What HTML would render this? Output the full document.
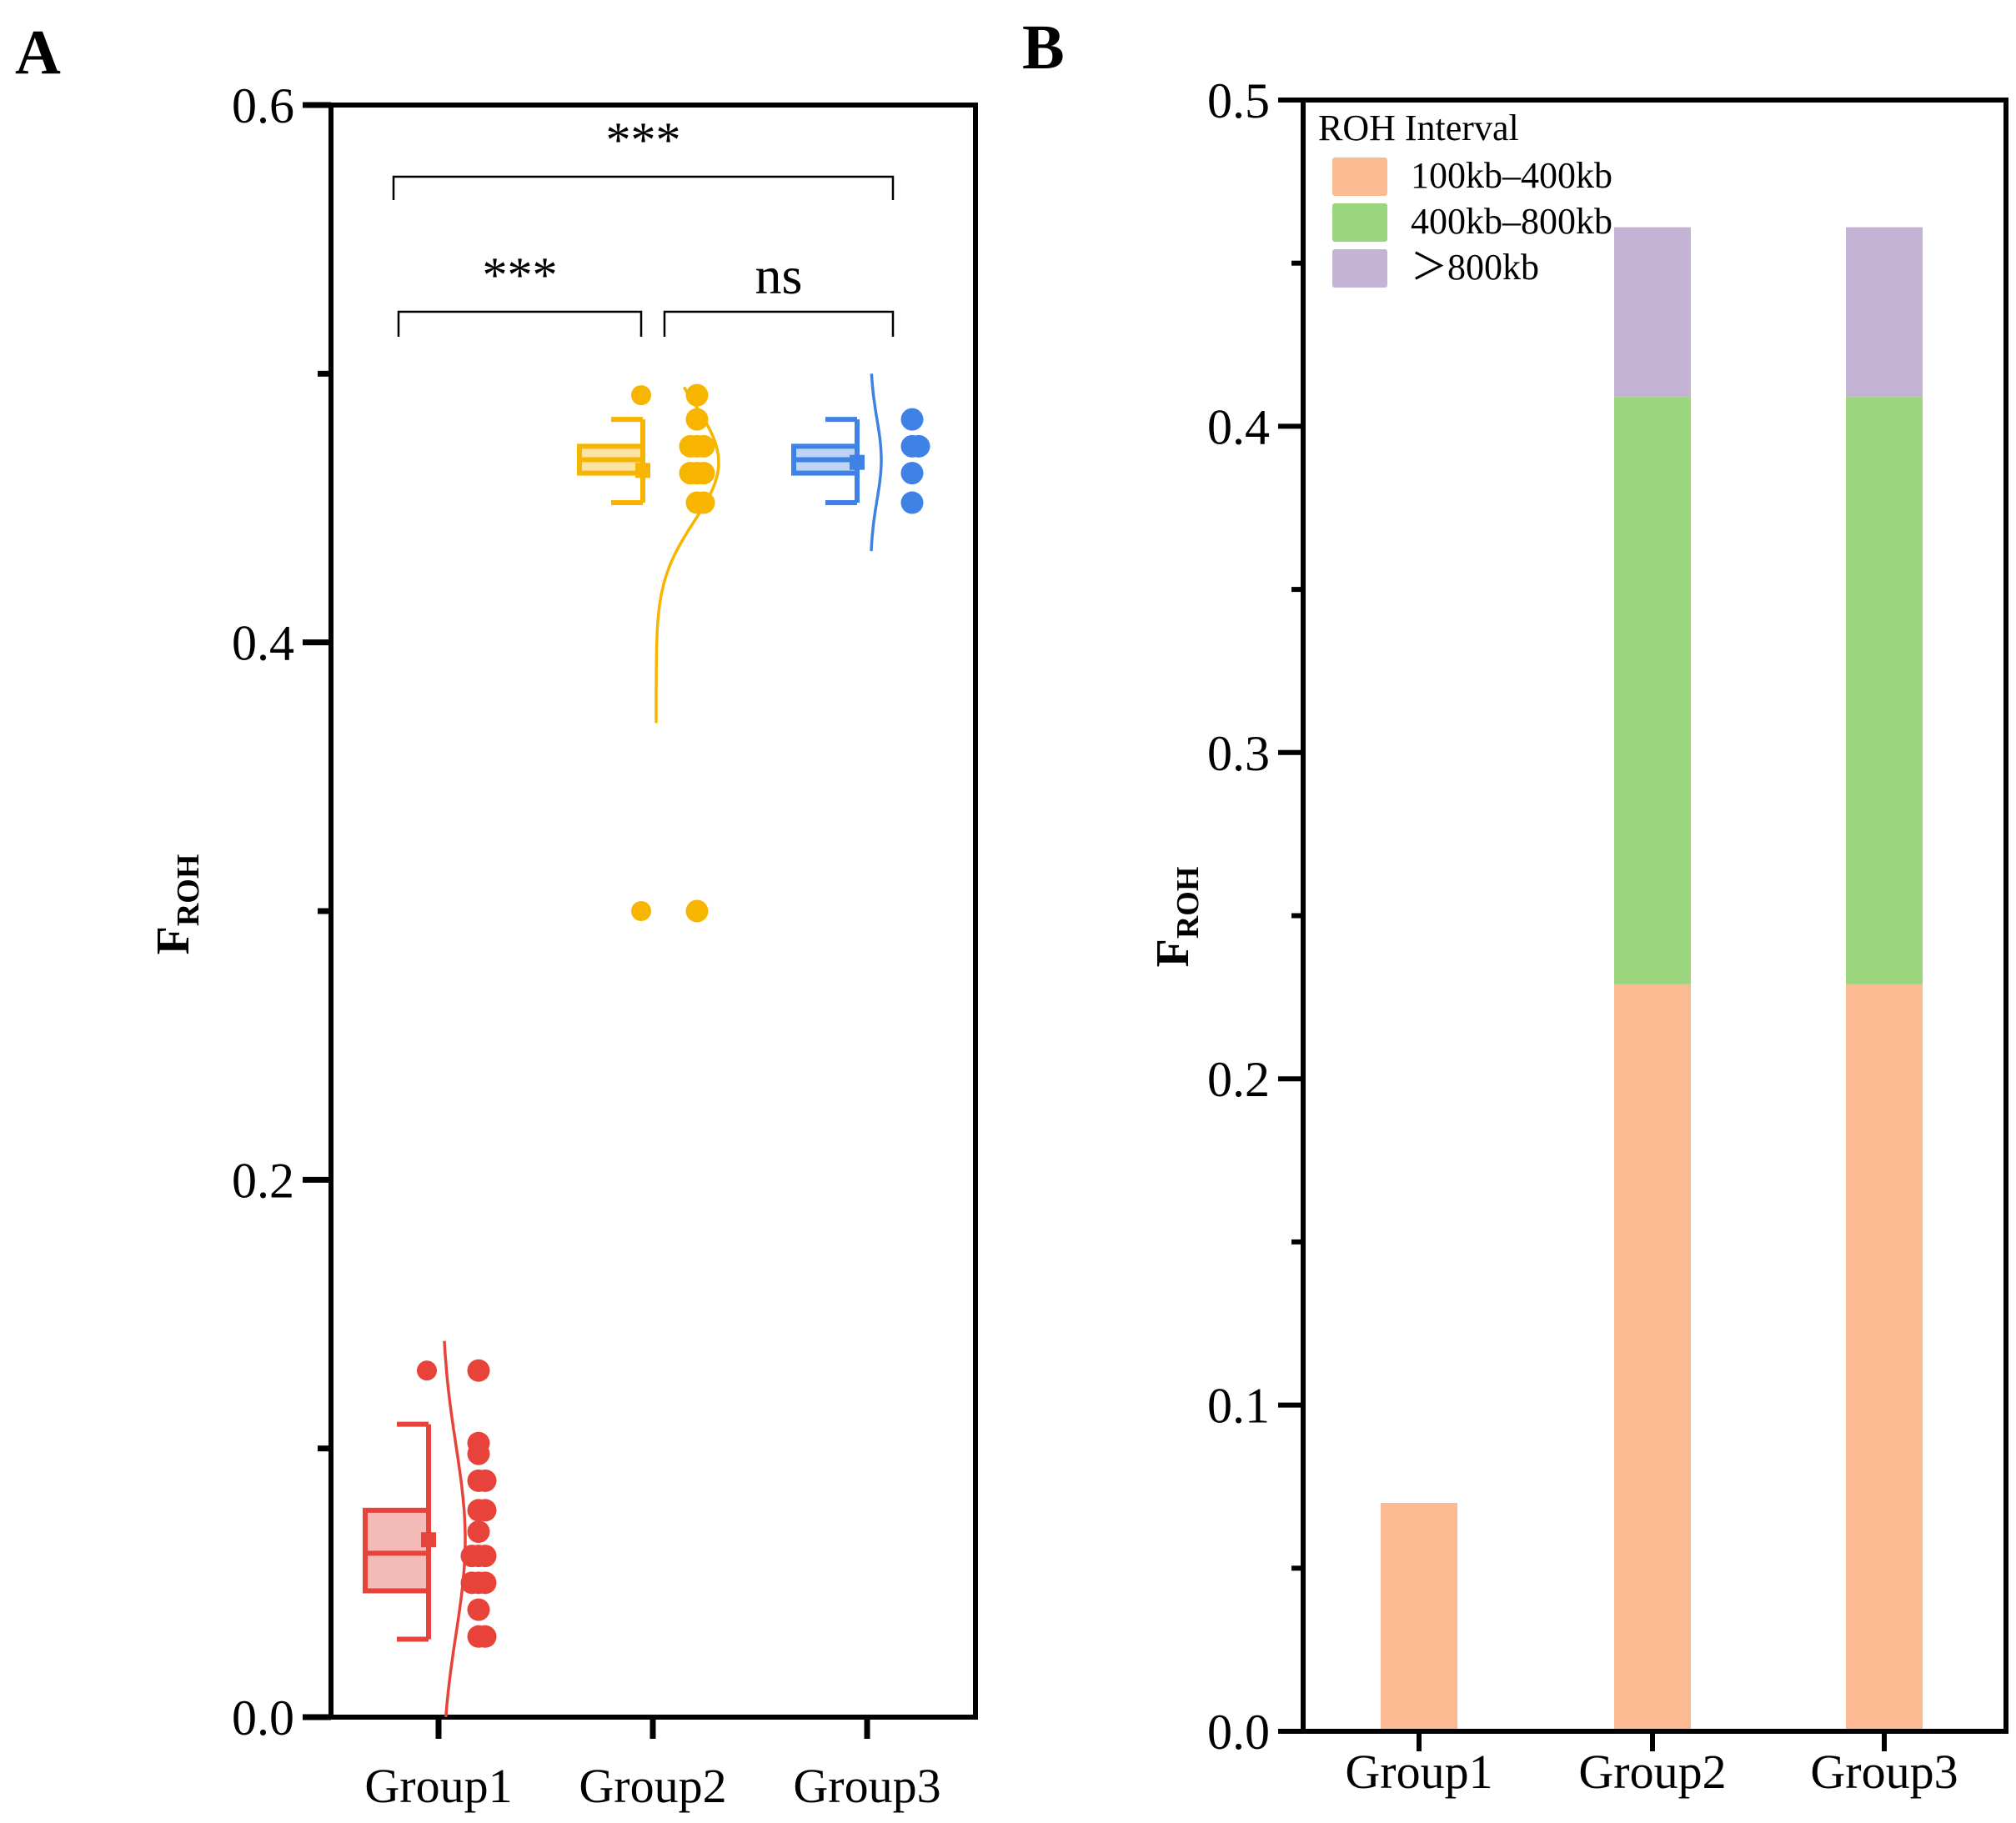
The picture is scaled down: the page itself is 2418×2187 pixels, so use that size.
<!DOCTYPE html>
<html><head><meta charset="utf-8"><style>
html,body{margin:0;padding:0;background:#fff}
svg{display:block}
text{font-family:"Liberation Serif",serif;fill:#000}
</style></head><body>
<svg id="chart" width="2418" height="2187" viewBox="0 0 2418 2187" xmlns="http://www.w3.org/2000/svg">
<text x="18" y="88" font-size="76" font-weight="bold">A</text>
<text x="1226" y="82" font-size="76" font-weight="bold">B</text>
<g id="pa"></g>
<g id="pb"></g>
</svg>
<script>
// ---------- Panel A data ----------
const groupsA = ["Group1","Group2","Group3"];
const q1A = [0.047, 0.463, 0.463];
const medA = [0.061, 0.468, 0.468];
const q3A = [0.077, 0.473, 0.473];
const whLoA = [0.029, 0.452, 0.452];
const whHiA = [0.109, 0.483, 0.483];
const meanA = [0.066, 0.464, 0.467];
const pts1 = [0.129,0.102,0.098,0.088,0.088,0.077,0.077,0.069,0.060,0.060,0.060,0.050,0.050,0.050,0.040,0.030,0.030];
const pts2 = [0.492,0.483,0.473,0.473,0.473,0.463,0.463,0.463,0.452,0.452,0.300];
const pts3 = [0.483,0.473,0.473,0.463,0.452];
const outliersA = [[0.129],[0.492,0.300],[]];
const curveMean = [0.066, 0.467, 0.468];
const curveSd = [0.035, 0.022, 0.015];
const curveLo = [0.0, 0.37, 0.434];
const curveHi = [0.14, 0.495, 0.50];
const yTicksA = [0.0, 0.2, 0.4, 0.6];
const yMinorA = [0.1, 0.3, 0.5];
const colorsA = ["#E8433A","#F7B500","#3F82E6"];
const fillsA = ["#F4BBB8","#FBE3A6","#BFD3F3"];

// ---------- Panel B data ----------
const groupsB = ["Group1","Group2","Group3"];
const seg1 = [0.070, 0.229, 0.229];
const seg2 = [0.000, 0.180, 0.180];
const seg3 = [0.000, 0.052, 0.052];
const seriesNames = ["100kb\u2013400kb","400kb\u2013800kb","\uFF1E800kb"];
const seriesColors = ["#FBBA91","#9BD57E","#C5B3D6"];
const yTicksB = [0.0,0.1,0.2,0.3,0.4,0.5];
const yMinorB = [0.05,0.15,0.25,0.35,0.45];

const NS="http://www.w3.org/2000/svg";
function mk(tag, attrs, parent){const e=document.createElementNS(NS,tag);for(const k in attrs)e.setAttribute(k,attrs[k]);parent.appendChild(e);return e;}

// ---------- Panel A ----------
(function(){
const g=document.getElementById('pa');
const L=397,R=1170,T=126,B=2060;
const y=v=>B-(v/0.6)*(B-T);
const xc=[526,783,1040];
const x=i=>xc[i];
let f=mk('rect',{x:L,y:T,width:R-L,height:B-T,fill:'none',stroke:'#000','stroke-width':6},g);


yTicksA.forEach(v=>{
  let t=mk('line',{x1:L-34,x2:L,y1:y(v),y2:y(v),stroke:'#000','stroke-width':7},g);
  
  
  let tx=mk('text',{x:L-44,y:y(v)+21,'font-size':60,'text-anchor':'end'},g);
  tx.textContent=v.toFixed(1);
  
  
});
yMinorA.forEach(v=>{
  let t=mk('line',{x1:L-16,x2:L,y1:y(v),y2:y(v),stroke:'#000','stroke-width':7},g);
  
  
});
groupsA.forEach((n,i)=>{
  let t=mk('line',{x1:x(i),x2:x(i),y1:B,y2:B+26,stroke:'#000','stroke-width':7},g);
  
  
  let tx=mk('text',{x:x(i),y:2162,'font-size':58,'text-anchor':'middle'},g);
  tx.textContent=n;
  
  
});
let yl=mk('text',{transform:'translate(226,1085) rotate(-90)','font-size':56,'font-weight':'bold','text-anchor':'middle'},g);
yl.innerHTML='F<tspan font-size="38" dy="12">ROH</tspan>';


const pts=[pts1,pts2,pts3];
groupsA.forEach((n,i)=>{
  const c=colorsA[i];
  const bx=x(i)-88, bw=76, br=x(i)-12;
  let bg=mk('g',{},g);
  
  
  mk('rect',{x:bx,y:y(q3A[i]),width:bw,height:y(q1A[i])-y(q3A[i]),fill:fillsA[i],stroke:c,'stroke-width':6},bg);
  mk('line',{x1:bx,x2:br,y1:y(medA[i]),y2:y(medA[i]),stroke:c,'stroke-width':6},bg);
  mk('line',{x1:br,x2:br,y1:y(whHiA[i]),y2:y(whLoA[i]),stroke:c,'stroke-width':6},bg);
  mk('line',{x1:br-38,x2:br,y1:y(whHiA[i]),y2:y(whHiA[i]),stroke:c,'stroke-width':6},bg);
  mk('line',{x1:br-38,x2:br,y1:y(whLoA[i]),y2:y(whLoA[i]),stroke:c,'stroke-width':6},bg);
  let m=mk('rect',{x:br-9,y:y(meanA[i])-9,width:18,height:18,fill:c},bg);
  
  
  outliersA[i].forEach(v=>{
    let o=mk('circle',{cx:br-2,cy:y(v),r:12,fill:c},bg);
    
    
  });
  let d='';
  const steps=60;
  for(let k=0;k<=steps;k++){
    const v=curveLo[i]+(curveHi[i]-curveLo[i])*k/steps;
    const z=(v-curveMean[i])/curveSd[i];
    const w=[28,75,13][i]*Math.exp(-0.5*z*z);
    d+=(k?'L':'M')+(x(i)+4+w).toFixed(1)+','+y(v).toFixed(1);
  }
  let cv=mk('path',{d:d,fill:'none',stroke:c,'stroke-width':3.5},bg);
  
  
  const seen={};
  const px=[574,836,1094][i];
  pts[i].forEach(v=>{
    const key=v.toFixed(3);
    const k=seen[key]||0; seen[key]=k+1;
    const off=(k%2?1:-1)*Math.ceil(k/2)*8;
    let p=mk('circle',{cx:px+off,cy:y(v),r:13.5,fill:c},bg);
    
    
  });
});
function bracket(x1,x2,yy,drop,label,ly,fs,name){
  let bg=mk('g',{},g);
  
  
  mk('path',{d:`M${x1},${yy+drop}V${yy}H${x2}V${yy+drop}`,fill:'none',stroke:'#000','stroke-width':2.5},bg);
  let t=mk('text',{x:(x1+x2)/2,y:ly,'font-size':fs,'text-anchor':'middle'},bg);
  t.textContent=label;
}
bracket(472,1071,212,28,'***',188,60,'significance-group1-group3');
bracket(478,769,374,30,'***',350,60,'significance-group1-group2');
bracket(797,1071,374,30,'ns',352,64,'significance-group2-group3');
})();

// ---------- Panel B ----------
(function(){
const g=document.getElementById('pb');
const L=1563,R=2406,T=120,B=2077;
const y=v=>B-(v/0.5)*(B-T);
const xc=[1702,1982,2260];
const bw=92;
yTicksB.forEach(v=>{
  let t=mk('line',{x1:L-30,x2:L,y1:y(v),y2:y(v),stroke:'#000','stroke-width':6},g);
  
  
  let tx=mk('text',{x:L-40,y:y(v)+21,'font-size':60,'text-anchor':'end'},g);
  tx.textContent=v.toFixed(1);
  
  
});
yMinorB.forEach(v=>{
  let t=mk('line',{x1:L-14,x2:L,y1:y(v),y2:y(v),stroke:'#000','stroke-width':6},g);
  
  
});
const segs=[seg1,seg2,seg3];
groupsB.forEach((n,i)=>{
  let base=0;
  segs.forEach((s,j)=>{
    if(s[i]<=0) return;
    let r=mk('rect',{x:xc[i]-bw/2,y:y(base+s[i]),width:bw,height:y(base)-y(base+s[i]),fill:seriesColors[j]},g);
    
    
    base+=s[i];
  });
  let t=mk('line',{x1:xc[i],x2:xc[i],y1:B,y2:B+24,stroke:'#000','stroke-width':6},g);
  
  
  let tx=mk('text',{x:xc[i],y:2145,'font-size':58,'text-anchor':'middle'},g);
  tx.textContent=n;
  
  
});
let f=mk('rect',{x:L,y:T,width:R-L,height:B-T,fill:'none',stroke:'#000','stroke-width':6},g);


let yl=mk('text',{transform:'translate(1425,1100) rotate(-90)','font-size':56,'font-weight':'bold','text-anchor':'middle'},g);
yl.innerHTML='F<tspan font-size="38" dy="12">ROH</tspan>';


let lg=mk('g',{},g);


let lt=mk('text',{x:1581,y:168,'font-size':44},lg);
lt.textContent='ROH Interval';


seriesNames.forEach((s,j)=>{
  const yy=189+j*55;
  let sw=mk('rect',{x:1598,y:yy,width:66,height:46,rx:3,fill:seriesColors[j]},lg);
  
  
  let t=mk('text',{x:1692,y:yy+36,'font-size':44},lg);
  t.textContent=s;
  
  
});
})();
</script>
</body></html>
